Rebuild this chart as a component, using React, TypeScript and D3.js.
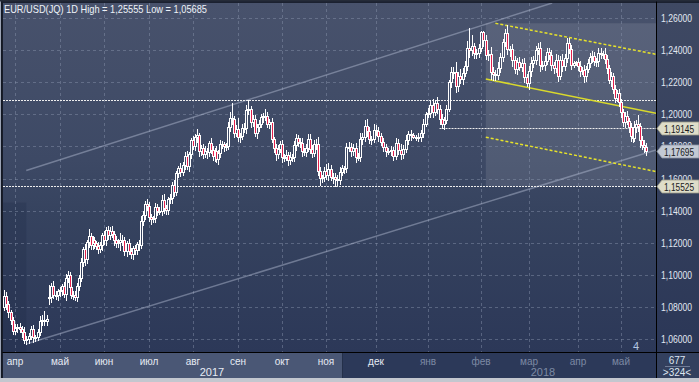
import React from 'react';
import * as d3 from 'd3';

// ---------- DATA ----------
const firstDate = '2017-03-27';
// daily closes, one per weekday, Mar 27 2017 .. Dec 29 2017
const closes2017 = [
  1.0866, 1.0815, 1.0768, 1.0718, 1.0652,
  1.0669, 1.0676, 1.0662, 1.0645, 1.0592, 1.0601, 1.0620, 1.0665, 1.0614, 1.0615, 1.0643, 1.0712, 1.0717, 1.0715, 1.0725, 1.0862, 1.0931, 1.0876, 1.0873, 1.0896,
  1.0904, 1.0928, 1.0881, 1.0983, 1.0998, 1.0921, 1.0876, 1.0874, 1.0864, 1.0933, 1.0981, 1.1082, 1.1160, 1.1101, 1.1206, 1.1243, 1.1183, 1.1215, 1.1196, 1.1180, 1.1163, 1.1183, 1.1245,
  1.1214, 1.1282, 1.1245, 1.1275, 1.1254, 1.1214, 1.1196, 1.1202, 1.1218, 1.1217, 1.1150, 1.1198, 1.1149, 1.1130, 1.1165, 1.1152, 1.1192, 1.1184, 1.1337, 1.1375, 1.1442, 1.1426,
  1.1361, 1.1348, 1.1354, 1.1423, 1.1400, 1.1399, 1.1466, 1.1415, 1.1401, 1.1470, 1.1478, 1.1558, 1.1515, 1.1634, 1.1666, 1.1643, 1.1685, 1.1739, 1.1679, 1.1750, 1.1842,
  1.1803, 1.1859, 1.1868, 1.1773, 1.1791, 1.1755, 1.1771, 1.1765, 1.1821, 1.1779, 1.1740, 1.1772, 1.1723, 1.1760, 1.1815, 1.1812, 1.1801, 1.1802, 1.1923, 1.1977, 1.1968, 1.1886, 1.1909,
  1.1859, 1.1865, 1.1915, 1.1915, 1.2024, 1.2035, 1.1953, 1.1968, 1.1885, 1.1920, 1.1942, 1.1985, 1.1991, 1.1992, 1.1942, 1.1950, 1.1846, 1.1793, 1.1751, 1.1786, 1.1813,
  1.1735, 1.1733, 1.1745, 1.1715, 1.1731, 1.1735, 1.1810, 1.1852, 1.1825, 1.1822, 1.1769, 1.1766, 1.1791, 1.1845, 1.1786, 1.1759, 1.1816, 1.1812, 1.1649, 1.1601, 1.1607, 1.1648,
  1.1620, 1.1661, 1.1608, 1.1612, 1.1595, 1.1588, 1.1640, 1.1663, 1.1664, 1.1794, 1.1794, 1.1769, 1.1793, 1.1735, 1.1735, 1.1848, 1.1856, 1.1926, 1.1895, 1.1844, 1.1846, 1.1905,
  1.1894, 1.1862, 1.1828, 1.1796, 1.1773, 1.1772, 1.1775, 1.1743, 1.1824, 1.1780, 1.1751, 1.1785, 1.1839, 1.1877, 1.1870, 1.1861, 1.1860, 1.1856, 1.1885, 1.1941, 1.1999,
];
// Jan 1 2018 .. May 18 2018
const closes2018 = [
  1.2010, 1.2058, 1.2016, 1.2069, 1.2030, 1.1970, 1.1937, 1.1963, 1.2032, 1.2199, 1.2265, 1.2264, 1.2176, 1.2236, 1.2220, 1.2257, 1.2299, 1.2410, 1.2400, 1.2427, 1.2383, 1.2380, 1.2414,
  1.2512, 1.2461, 1.2369, 1.2378, 1.2265, 1.2252, 1.2246, 1.2291, 1.2355, 1.2448, 1.2505, 1.2405, 1.2407, 1.2336, 1.2284, 1.2328, 1.2295, 1.2319, 1.2232, 1.2194,
  1.2270, 1.2318, 1.2336, 1.2403, 1.2413, 1.2310, 1.2307, 1.2335, 1.2390, 1.2370, 1.2306, 1.2290, 1.2337, 1.2240, 1.2341, 1.2304, 1.2353, 1.2446, 1.2404, 1.2307, 1.2317, 1.2323,
  1.2302, 1.2271, 1.2275, 1.2238, 1.2282, 1.2317, 1.2354, 1.2365, 1.2329, 1.2331, 1.2380, 1.2373, 1.2374, 1.2345, 1.2288, 1.2212, 1.2237, 1.2160, 1.2104, 1.2130, 1.2079,
  1.2012, 1.1952, 1.1989, 1.1960, 1.1922, 1.1865, 1.1851, 1.1919, 1.1942, 1.1924, 1.1837, 1.1809, 1.1795, 1.17695,
];
// opens that differ from the previous close (index -> open)
const gapOpens: Record<number, number> = { 0: 1.0800, 20: 1.0860 };
// upper / lower wick lengths in pips
const upperWick2017 = [
  40, 25, 20, 15, 20,
  25, 20, 25, 20, 30, 15, 20, 15, 25, 10, 20, 30, 35, 60, 25, 75, 15, 30, 20, 15,
  20, 15, 30, 20, 25, 20, 15, 20, 25, 15, 20, 25, 15, 30, 10, 45, 20, 25, 20, 15, 25, 20, 15,
  30, 15, 25, 20, 30, 20, 25, 20, 40, 30, 20, 15, 25, 20, 15, 20, 15, 25, 30, 20, 15, 30,
  30, 20, 15, 25, 20, 20, 30, 35, 20, 15, 25, 20, 30, 15, 10, 30, 20, 25, 30, 15, 10,
  25, 20, 40, 15, 20, 25, 30, 20, 15, 30, 25, 20, 30, 20, 25, 20, 15, 20, 30, 35, 93, 20, 25,
  71, 20, 25, 30, 35, 57, 15, 25, 30, 20, 25, 15, 20, 40, 25, 20, 25, 15, 20, 25, 20,
  25, 20, 30, 20, 35, 15, 25, 28, 20, 25, 30, 20, 25, 30, 35, 20, 25, 30, 45, 20, 15, 25,
  40, 35, 25, 20, 20, 25, 30, 20, 15, 25, 35, 30, 20, 30, 25, 35, 30, 40, 45, 25, 20, 35,
  30, 25, 20, 25, 20, 15, 25, 20, 30, 20, 35, 25, 30, 20, 25, 15, 10, 25, 20, 30, 15,
];
const upperWick2018 = [
  30, 30, 40, 20, 40, 25, 30, 20, 25, 16, 31, 30, 59, 25, 45, 30, 35, 45, 127, 67, 20, 25, 25,
  8, 10, 30, 25, 40, 30, 25, 35, 30, 20, 25, 50, 20, 30, 25, 20, 30, 25, 30, 20,
  30, 40, 25, 20, 30, 35, 25, 30, 20, 25, 30, 20, 40, 30, 25, 35, 25, 30, 30, 25, 15, 10,
  25, 30, 20, 35, 20, 30, 25, 30, 25, 20, 30, 35, 20, 40, 25, 20, 25, 20, 25, 20, 30,
  15, 20, 25, 30, 20, 25, 30, 40, 25, 55, 20, 25, 30, 25,
];
const lowerWick2017 = [
  20, 25, 30, 25, 20,
  20, 25, 20, 30, 20, 23, 25, 20, 30, 25, 20, 20, 25, 30, 25, 39, 30, 20, 25, 30,
  25, 30, 20, 35, 25, 30, 20, 25, 20, 30, 25, 20, 30, 40, 25, 30, 20, 25, 30, 20, 25, 20, 30,
  25, 30, 20, 25, 20, 30, 25, 20, 45, 30, 25, 35, 20, 25, 30, 20, 25, 30, 20, 25, 30, 25,
  25, 30, 20, 25, 30, 20, 25, 30, 20, 25, 20, 30, 25, 20, 25, 30, 20, 25, 20, 30, 25,
  20, 25, 30, 30, 25, 30, 20, 35, 25, 20, 25, 30, 20, 30, 25, 20, 30, 25, 20, 25, 30, 25, 20,
  25, 30, 20, 25, 30, 25, 30, 25, 20, 30, 25, 20, 30, 25, 20, 25, 20, 30, 35, 25, 20,
  30, 25, 20, 30, 25, 20, 25, 30, 20, 25, 30, 20, 25, 20, 30, 25, 20, 30, 25, 40, 25, 20,
  25, 30, 20, 35, 41, 30, 25, 20, 30, 25, 20, 30, 25, 35, 20, 25, 30, 20, 30, 25, 30, 20,
  25, 30, 20, 25, 30, 20, 25, 30, 20, 25, 30, 25, 20, 25, 30, 10, 20, 25, 20, 25, 15,
];
const lowerWick2018 = [
  15, 25, 30, 20, 25, 30, 25, 30, 20, 12, 30, 40, 35, 30, 25, 30, 20, 25, 45, 30, 35, 30, 25,
  20, 35, 25, 30, 45, 40, 30, 25, 30, 20, 25, 30, 40, 35, 25, 30, 20, 25, 30, 20,
  39, 30, 25, 20, 30, 40, 25, 30, 20, 25, 30, 35, 25, 30, 20, 35, 25, 30, 20, 25, 15, 10,
  25, 30, 20, 35, 30, 20, 25, 30, 20, 25, 30, 25, 20, 25, 30, 20, 35, 25, 30, 20, 30,
  30, 25, 30, 20, 35, 30, 25, 20, 30, 25, 40, 25, 30, 25,
];
const priceTicks = [1.06, 1.08, 1.10, 1.12, 1.14, 1.16, 1.18, 1.20, 1.22, 1.24, 1.26];
const monthNames = ['янв', 'фев', 'мар', 'апр', 'май', 'июн', 'июл', 'авг', 'сен', 'окт', 'ноя', 'дек'];
// horizontal levels: [price, start candle index (null = from left edge)]
const levels: [number, number | null][] = [[1.2092, null], [1.19145, 205], [1.15525, null]];
// tagged prices on the axis
const tagPrices = [1.19145, 1.17695, 1.15525];
const lastPrice = 1.17695;
// trend channel (index, price) anchor pairs
const grayChannel = [
  [[10, 1.1650], [205, 1.2470]],
  [[10, 1.0569], [299, 1.1758]],
];
const yellowChannel = [
  [[229, 1.2567], [299, 1.2386]],
  [[225, 1.2220], [299, 1.2019]],
  [[225, 1.1857], [299, 1.1656]],
];
const titleText = 'EUR/USD(JQ) 1D High = 1,25555 Low = 1,05685';

// ---------- LAYOUT ----------
const W = 699, H = 382;
const PL = 3, PR = 656, PT = 3, PB = 352;
// pixel position of each month start on the broker's time axis
const monthAnchorPx = [15, 60, 104, 149, 193, 238, 282, 326, 376, 428, 481, 529, 578, 621];

export default function App() {
  const closes = [...closes2017, ...closes2018];
  const upW = [...upperWick2017, ...upperWick2018];
  const loW = [...lowerWick2017, ...lowerWick2018];
  const n = closes.length;

  // weekday calendar
  const dates: Date[] = [];
  let d = new Date(firstDate + 'T00:00:00Z');
  while (dates.length < n) {
    const wd = d.getUTCDay();
    if (wd !== 0 && wd !== 6) dates.push(new Date(d));
    d = new Date(d.getTime() + 86400000);
  }
  const monthStarts: number[] = [];
  for (let i = 1; i < n; i++) if (dates[i].getUTCMonth() !== dates[i - 1].getUTCMonth()) monthStarts.push(i);

  const x = d3.scaleLinear()
    .domain([0, ...monthStarts, n - 1])
    .range([3.75, ...monthAnchorPx, 646]);
  const y = d3.scaleLinear().domain([1.06, 1.26]).range([339, 18]);

  const candles = closes.map((c, i) => {
    const o = gapOpens[i] ?? (i > 0 ? closes[i - 1] : c);
    const hi = Math.max(o, c) + (upW[i] ?? 0) / 10000;
    const lo = Math.min(o, c) - (loW[i] ?? 0) / 10000;
    return { i, o, c, hi, lo };
  });

  const fmt = (v: number) => d3.format('.5f')(v).replace('.', ',');
  const font = '"Liberation Sans", Arial, sans-serif';

  const lineFromAnchors = (a: number[][], extendRight: boolean) => {
    const x1 = x(a[0][0]), y1 = y(a[0][1]), x2 = x(a[1][0]), y2 = y(a[1][1]);
    const k = (y2 - y1) / (x2 - x1);
    const xe = extendRight ? PR : x2;
    return { x1, y1, x2: xe, y2: y1 + k * (xe - x1) };
  };
  const lineFromAnchorsToTop = (a: number[][]) => {
    const x1 = x(a[0][0]), y1 = y(a[0][1]), x2 = x(a[1][0]), y2 = y(a[1][1]);
    const k = (y2 - y1) / (x2 - x1);
    const xe = x1 + (PT - y1) / k;
    return { x1, y1, x2: xe, y2: PT };
  };

  // boundary between the 2017 and 2018 areas of the time axis
  const yearSplit = Math.round(x(monthStarts[7])) + 16;

  return (
    <svg width={W} height={H} style={{ position: 'absolute', left: 0, top: 0, display: 'block' }}>
      <defs>
        <linearGradient id="bgGrad" gradientUnits="userSpaceOnUse" x1="0" y1={PT} x2="0" y2={PB}>
          <stop offset="0" stopColor="#48526c" />
          <stop offset="0.45" stopColor="#3d4965" />
          <stop offset="0.6" stopColor="#36435f" />
          <stop offset="1" stopColor="#2c3858" />
        </linearGradient>
        <linearGradient id="axGrad" gradientUnits="userSpaceOnUse" x1="0" y1={PT} x2="0" y2={PB}>
          <stop offset="0" stopColor="#3f4963" />
          <stop offset="1" stopColor="#2b3757" />
        </linearGradient>
        <clipPath id="plotClip">
          <rect x={PL} y={PT} width={PR - PL} height={PB - PT} />
        </clipPath>
      </defs>
      <rect x={0} y={0} width={W} height={H} fill="#1b2130" />
      <rect x={PL} y={PT} width={PR - PL} height={PB - PT} fill="url(#bgGrad)" />
      <rect x={PR + 1} y={PT} width={W - PR - 1} height={PB - PT} fill="url(#axGrad)" />

      <g clipPath="url(#plotClip)">
        {/* highlighted zone of the descending channel */}
        <rect x={x(225)} y={y(1.2567)} width={PR - x(225)} height={y(1.15525) - y(1.2567)} fill="#ffffff" opacity={0.1} />
        {/* darker zone at the start of the series */}
        <rect x={PL} y={y(1.1450)} width={x(10) - PL} height={PB - y(1.1450)} fill="#1c2744" opacity={0.25} />

        {/* grid */}
        {priceTicks.map(t => (
          <line key={'h' + t} x1={PL} x2={PR} y1={Math.round(y(t)) + 0.5} y2={Math.round(y(t)) + 0.5}
            stroke="#8c97b0" strokeOpacity={0.45} strokeDasharray="3,3" />
        ))}
        {monthStarts.map(m => (
          <line key={'v' + m} y1={PT} y2={PB} x1={Math.round(x(m)) + 0.5} x2={Math.round(x(m)) + 0.5}
            stroke="#8c97b0" strokeOpacity={0.45} strokeDasharray="3,3" />
        ))}

        {/* gray ascending channel */}
        {(() => {
          const u = lineFromAnchorsToTop(grayChannel[0]);
          const l = lineFromAnchors(grayChannel[1], true);
          return (
            <g stroke="#b8c2d8" strokeOpacity={0.45} strokeWidth={1.5}>
              <line x1={u.x1} y1={u.y1} x2={u.x2} y2={u.y2} />
              <line x1={l.x1} y1={l.y1} x2={l.x2} y2={l.y2} />
            </g>
          );
        })()}

        {/* horizontal levels */}
        {levels.map(([p, s]) => (
          <line key={'l' + p} x1={s == null ? PL : x(s)} x2={PR} y1={Math.round(y(p)) + 0.5} y2={Math.round(y(p)) + 0.5}
            stroke="#eeeeee" strokeDasharray="2,1" />
        ))}

        {/* yellow descending channel */}
        {yellowChannel.map((a, k) => {
          const l = lineFromAnchors(a, true);
          return <line key={'y' + k} x1={l.x1} y1={l.y1} x2={l.x2} y2={l.y2}
            stroke={k === 1 ? '#d9d92c' : '#e6e22a'} strokeWidth={k === 1 ? 1.6 : 1.5}
            strokeDasharray={k === 1 ? undefined : '3,2'} />;
        })}

        {/* candles */}
        {candles.map(cd => {
          const cx = Math.round(x(cd.i));
          const top = Math.round(y(Math.max(cd.o, cd.c)));
          const bot = Math.round(y(Math.min(cd.o, cd.c)));
          const down = cd.c < cd.o;
          return (
            <g key={'c' + cd.i}>
              <line x1={cx + 0.5} x2={cx + 0.5} y1={Math.round(y(cd.hi))} y2={Math.round(y(cd.lo)) + 1} stroke="#ffffff" />
              <rect x={cx - 0.5} y={top + 0.5} width={2} height={Math.max(bot - top, 1)}
                fill={down ? '#e3204c' : 'url(#bgGrad)'} stroke="#ffffff" strokeWidth={1} />
            </g>
          );
        })}
      </g>

      {/* title */}
      <text x={4} y={13} fontFamily={font} fontSize={11} fill="#eef2f8" textLength={203} lengthAdjust="spacingAndGlyphs">{titleText}</text>
      <text x={633} y={350} fontFamily={font} fontSize={11} fill="#b4c6e2">4</text>

      {/* right axis */}
      <line x1={PR + 0.5} x2={PR + 0.5} y1={0} y2={378} stroke="#000000" />
      {priceTicks.map(t => (
        <text key={'t' + t} x={661} y={y(t) + 4} fontFamily={font} fontSize={10} fill="#e2e8f2" textLength={31} lengthAdjust="spacingAndGlyphs">{fmt(t)}</text>
      ))}
      {tagPrices.map(p => {
        const yc = Math.round(y(p)) + 0.5;
        const isLast = p === lastPrice;
        return (
          <g key={'tag' + p}>
            <path d={`M${PR + 1},${yc} L${PR + 6},${yc - 6.5} L${W},${yc - 6.5} L${W},${yc + 6.5} L${PR + 6},${yc + 6.5} Z`}
              fill={isLast ? '#c3c9d4' : '#deddc9'} stroke={isLast ? '#8d95a5' : '#9a9a88'} strokeWidth={0.8} />
            <text x={664} y={yc + 4} fontFamily={font} fontSize={10} fill="#1a1a1a" textLength={30} lengthAdjust="spacingAndGlyphs">{fmt(p)}</text>
          </g>
        );
      })}

      {/* bottom time axis */}
      <rect x={PL} y={PB + 1} width={yearSplit - PL} height={25} fill="#4a5775" />
      <rect x={yearSplit} y={PB + 1} width={PR - yearSplit} height={25} fill="#2c3959" />
      <line x1={yearSplit + 0.5} x2={yearSplit + 0.5} y1={PB + 1} y2={378} stroke="#24304a" />
      <rect x={PR + 1} y={PB + 1} width={W - PR - 1} height={25} fill="#33405e" />
      <line x1={0} x2={W} y1={PB + 0.5} y2={PB + 0.5} stroke="#000000" />
      {monthStarts.map(m => {
        const in2017 = dates[m].getUTCFullYear() === 2017;
        return (
          <text key={'m' + m} x={x(m)} y={365} textAnchor="middle" fontFamily={font} fontSize={10}
            fill={in2017 ? '#e6ebf4' : '#7d89a4'}>{monthNames[dates[m].getUTCMonth()]}</text>
        );
      })}
      <text x={212} y={376} textAnchor="middle" fontFamily={font} fontSize={11} fill="#e6ebf4">2017</text>
      <text x={543} y={376} textAnchor="middle" fontFamily={font} fontSize={11} fill="#7d89a4">2018</text>
      <text x={677} y={364} textAnchor="middle" fontFamily={font} fontSize={10} fill="#dfe6f0">677</text>
      <line x1={665} x2={690} y1={366.5} y2={366.5} stroke="#6f7b95" />
      <text x={677} y={376} textAnchor="middle" fontFamily={font} fontSize={10} fill="#dfe6f0">&gt;324&lt;</text>

      {/* frame */}
      <rect x={0} y={378} width={W} height={4} fill="#c3c7cf" />
      <rect x={0} y={0} width={1} height={378} fill="#9ba3b4" />
      <rect x={1} y={0} width={1.5} height={378} fill="#141924" />
      <rect x={0} y={0} width={W} height={1.5} fill="#252b38" />
    </svg>
  );
}
